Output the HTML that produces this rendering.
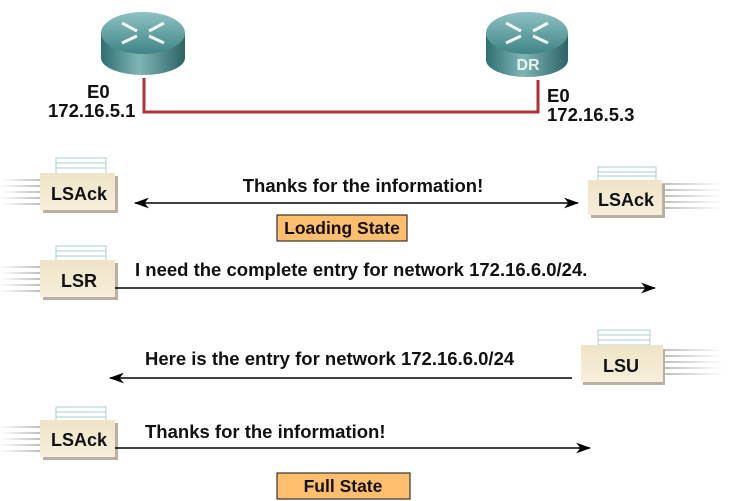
<!DOCTYPE html>
<html><head><meta charset="utf-8"><style>
html,body{margin:0;padding:0;background:#fff;}
svg{display:block;font-family:"Liberation Sans",Arial,sans-serif;font-weight:bold;}
</style></head><body>
<svg width="730" height="501" viewBox="0 0 730 501" xmlns="http://www.w3.org/2000/svg">
<defs>
<linearGradient id="rb" x1="0" x2="1" y1="0" y2="0">
<stop offset="0" stop-color="#2f6f72"/><stop offset="0.45" stop-color="#7fb5b5"/><stop offset="1" stop-color="#2c6467"/>
</linearGradient>
<linearGradient id="rt" x1="0" x2="0" y1="0" y2="1">
<stop offset="0" stop-color="#8fc2c2"/><stop offset="1" stop-color="#3f8485"/>
</linearGradient>
<linearGradient id="env" x1="0" x2="0" y1="0" y2="1">
<stop offset="0" stop-color="#efe4c6"/><stop offset="1" stop-color="#f6eedb"/>
</linearGradient>
<linearGradient id="strL" gradientUnits="userSpaceOnUse" x1="0" x2="42" y1="0" y2="0"><stop offset="0" stop-color="#fff"/><stop offset="1" stop-color="#bdbdbd"/></linearGradient>
<linearGradient id="strR" gradientUnits="userSpaceOnUse" x1="60" x2="0" y1="0" y2="0"><stop offset="0" stop-color="#fff"/><stop offset="1" stop-color="#bdbdbd"/></linearGradient>
<g id="envL">
<g stroke="url(#strL)" stroke-width="2"><line x1="0" y1="4" x2="42" y2="4"/><line x1="0" y1="10" x2="42" y2="10"/><line x1="0" y1="16" x2="42" y2="16"/><line x1="0" y1="22" x2="42" y2="22"/><line x1="0" y1="28" x2="42" y2="28"/></g>
</g>
<g id="envR">
<g stroke="url(#strR)" stroke-width="2"><line x1="0" y1="4" x2="60" y2="4"/><line x1="0" y1="10" x2="60" y2="10"/><line x1="0" y1="16" x2="60" y2="16"/><line x1="0" y1="22" x2="60" y2="22"/><line x1="0" y1="28" x2="60" y2="28"/></g>
</g>
<marker id="ah" viewBox="0 0 14 10" refX="13" refY="5" markerWidth="15" markerHeight="11" markerUnits="userSpaceOnUse" orient="auto-start-reverse">
<path d="M0,0 L14,5 L0,10 L4,5 z" fill="#000"/></marker>
</defs>

<!-- routers -->
<g>
<path d="M101,33 L101,58 A42,17 0 0 0 185,58 L185,33 z" fill="url(#rb)"/>
<ellipse cx="143" cy="33" rx="42" ry="21" fill="url(#rt)"/>
<g stroke="#fff" stroke-width="3" fill="none" opacity="0.9"><line x1="122" y1="23" x2="137" y2="31"/><line x1="164" y1="23" x2="149" y2="31"/><line x1="122" y1="43" x2="137" y2="36"/><line x1="164" y1="43" x2="149" y2="36"/></g>
</g>
<g>
<path d="M486,33 L486,60 A41,17 0 0 0 568,60 L568,33 z" fill="url(#rb)"/>
<ellipse cx="527" cy="33" rx="41" ry="21" fill="url(#rt)"/>
<g stroke="#fff" stroke-width="3" fill="none" opacity="0.9"><line x1="506" y1="23" x2="521" y2="31"/><line x1="548" y1="23" x2="533" y2="31"/><line x1="506" y1="43" x2="521" y2="36"/><line x1="548" y1="43" x2="533" y2="36"/></g>
<text x="528" y="70" font-size="16" fill="#e8f2f2" text-anchor="middle">DR</text>
</g>
<polyline points="144,78 144,112 538,112 538,80" fill="none" stroke="#b0303a" stroke-width="3"/>
<text x="87" y="98" font-size="18.5" fill="#111">E0</text>
<text x="48" y="117" font-size="18.5" fill="#111">172.16.5.1</text>
<text x="547" y="102" font-size="18.5" fill="#111">E0</text>
<text x="547" y="121" font-size="18.5" fill="#111">172.16.5.3</text>

<!-- envelope 1 left LSAck -->
<use href="#envL" x="0" y="176"/>
<rect x="56" y="158" width="50" height="17" fill="#fff" stroke="#a8cccc"/>
<line x1="56" y1="163" x2="106" y2="163" stroke="#a8cccc"/><line x1="56" y1="168" x2="106" y2="168" stroke="#a8cccc"/>
<rect x="43" y="176" width="75" height="37" fill="#b8b0a0"/>
<rect x="40" y="173" width="75" height="37" fill="url(#env)"/>
<text x="79" y="200" font-size="18" text-anchor="middle" fill="#111">LSAck</text>

<!-- envelope 2 right LSAck -->
<use href="#envR" x="662" y="180"/>
<rect x="598" y="167" width="58" height="14" fill="#fff" stroke="#a8cccc"/>
<line x1="598" y1="172" x2="656" y2="172" stroke="#a8cccc"/><line x1="598" y1="176" x2="656" y2="176" stroke="#a8cccc"/>
<rect x="591" y="184" width="74" height="34" fill="#b8b0a0"/>
<rect x="588" y="180" width="74" height="35" fill="url(#env)"/>
<text x="626" y="206" font-size="18" text-anchor="middle" fill="#111">LSAck</text>

<line x1="135" y1="203" x2="578" y2="203" stroke="#000" stroke-width="1.5" marker-start="url(#ah)" marker-end="url(#ah)"/>
<text x="363" y="192" font-size="18.5" text-anchor="middle" fill="#111">Thanks for the information!</text>
<rect x="277" y="215" width="130" height="26" fill="#ffbe6e" stroke="#333" stroke-width="1.2"/>
<text x="342" y="234" font-size="17.5" text-anchor="middle" fill="#111">Loading State</text>

<!-- LSR -->
<use href="#envL" x="0" y="263"/>
<rect x="56" y="246" width="50" height="15" fill="#fff" stroke="#a8cccc"/>
<line x1="56" y1="251" x2="106" y2="251" stroke="#a8cccc"/><line x1="56" y1="256" x2="106" y2="256" stroke="#a8cccc"/>
<rect x="43" y="263" width="75" height="37" fill="#b8b0a0"/>
<rect x="40" y="260" width="75" height="37" fill="url(#env)"/>
<text x="79" y="287" font-size="18" text-anchor="middle" fill="#111">LSR</text>
<line x1="115" y1="288" x2="655" y2="288" stroke="#000" stroke-width="1.5" marker-end="url(#ah)"/>
<text x="135" y="276" font-size="18.5" fill="#111">I need the complete entry for network 172.16.6.0/24.</text>

<!-- LSU -->
<use href="#envR" x="663" y="346"/>
<rect x="598" y="330" width="52" height="15" fill="#fff" stroke="#a8cccc"/>
<line x1="598" y1="335" x2="650" y2="335" stroke="#a8cccc"/><line x1="598" y1="340" x2="650" y2="340" stroke="#a8cccc"/>
<rect x="583" y="349" width="82" height="36" fill="#b8b0a0"/>
<rect x="581" y="345" width="82" height="37" fill="url(#env)"/>
<text x="621" y="372" font-size="18" text-anchor="middle" fill="#111">LSU</text>
<line x1="110" y1="378" x2="572" y2="378" stroke="#000" stroke-width="1.5" marker-start="url(#ah)"/>
<text x="145" y="365" font-size="18.5" fill="#111">Here is the entry for network 172.16.6.0/24</text>

<!-- LSAck bottom -->
<use href="#envL" x="0" y="423"/>
<rect x="56" y="407" width="50" height="15" fill="#fff" stroke="#a8cccc"/>
<line x1="56" y1="412" x2="106" y2="412" stroke="#a8cccc"/><line x1="56" y1="417" x2="106" y2="417" stroke="#a8cccc"/>
<rect x="43" y="423" width="75" height="37" fill="#b8b0a0"/>
<rect x="40" y="420" width="75" height="37" fill="url(#env)"/>
<text x="79" y="446" font-size="18" text-anchor="middle" fill="#111">LSAck</text>
<line x1="115" y1="448" x2="590" y2="448" stroke="#000" stroke-width="1.5" marker-end="url(#ah)"/>
<text x="145" y="438" font-size="18.5" fill="#111">Thanks for the information!</text>
<rect x="277" y="473" width="133" height="26" fill="#ffbe6e" stroke="#333" stroke-width="1.2"/>
<text x="343" y="492" font-size="17.5" text-anchor="middle" fill="#111">Full State</text>
</svg>
</body></html>
